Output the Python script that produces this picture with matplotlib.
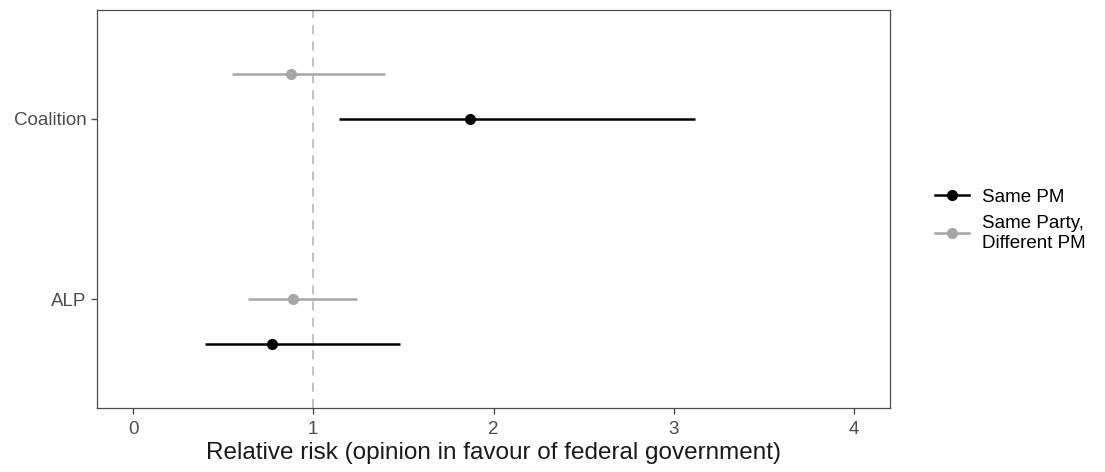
import matplotlib
matplotlib.use("Agg")
import matplotlib.pyplot as plt
from matplotlib.lines import Line2D

plt.rcParams['font.family'] = ['Liberation Sans', 'DejaVu Sans']

# data
parties = ["ALP", "Coalition"]
series = ["Same PM", "Same Party,\nDifferent PM"]
colors = ["#000000", "#a6a6a6"]
offsets = {"Same PM": [-0.25, 0.0], "Same Party,\nDifferent PM": [0.0, 0.25]}

same_pm_est = [0.77, 1.87]
same_pm_lo = [0.40, 1.14]
same_pm_hi = [1.48, 3.12]

diff_pm_est = [0.885, 0.875]
diff_pm_lo = [0.64, 0.55]
diff_pm_hi = [1.24, 1.40]

est = [same_pm_est, diff_pm_est]
lo = [same_pm_lo, diff_pm_lo]
hi = [same_pm_hi, diff_pm_hi]

fig = plt.figure(figsize=(11.05, 4.72), dpi=100)
ax = fig.add_axes([97 / 1105, 1 - 408 / 472, (890 - 97) / 1105, (408 - 10) / 472])

ax.axvline(1, color="#bdbdbd", linestyle=(0, (5, 4)), linewidth=1.3, zorder=1)

for i, name in enumerate(series):
    ys = [k + 1 + offsets[name][k] for k in range(len(parties))]
    ax.hlines(ys, lo[i], hi[i], color=colors[i], linewidth=1.8, zorder=2)
    ax.plot(est[i], ys, "o", color=colors[i], markersize=7, zorder=3)

ax.set_xlim(-0.2, 4.2)
ax.set_ylim(0.395, 2.605)
ax.set_xticks([0, 1, 2, 3, 4])
ax.set_yticks([1, 2])
ax.set_yticklabels(parties)
ax.tick_params(axis="both", colors="#4d4d4d", labelsize=13.5, length=4, width=1)
ax.tick_params(axis="x", pad=5)
for lab in ax.get_xticklabels() + ax.get_yticklabels():
    lab.set_color("#4d4d4d")
for sp in ax.spines.values():
    sp.set_color("#4d4d4d")
    sp.set_linewidth(0.9)

ax.set_xlabel("Relative risk (opinion in favour of federal government)", fontsize=17.5, color="#1a1a1a", labelpad=3)

handles = [Line2D([0], [0], color=c, linewidth=1.8, marker="o", markersize=7) for c in colors]
fig.legend(handles, series, loc="center left", bbox_to_anchor=(918 / 1105, 1 - 220 / 472),
           frameon=False, fontsize=13.5, handlelength=1.8, labelspacing=0.5, handletextpad=0.7)

fig.savefig("out.png", dpi=100)
